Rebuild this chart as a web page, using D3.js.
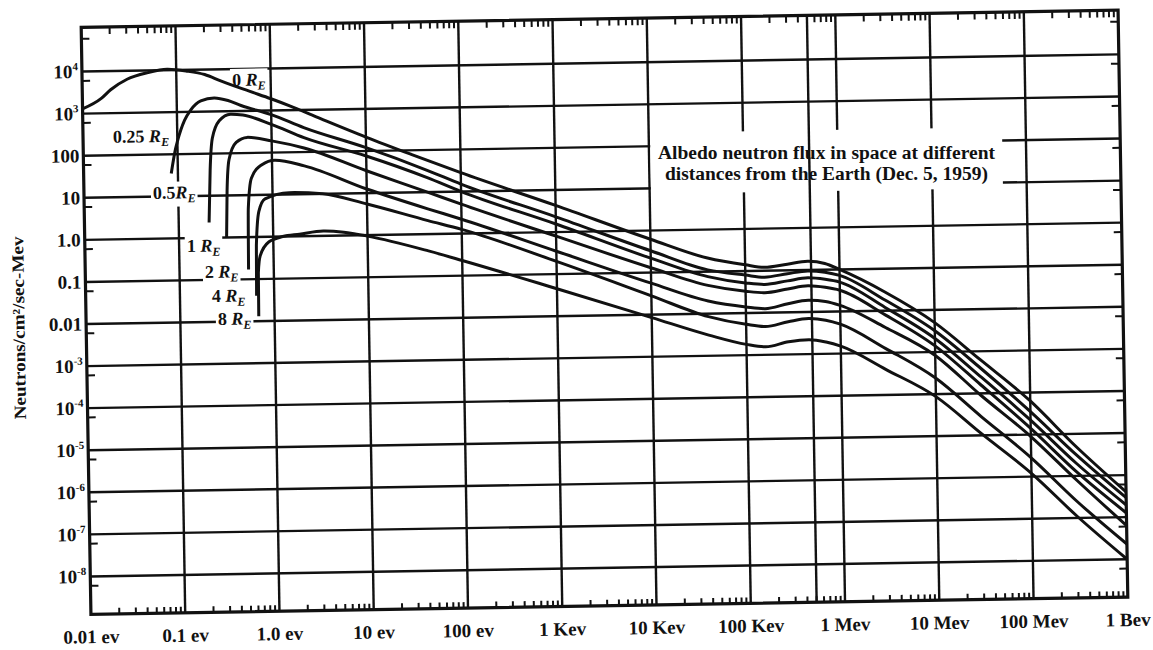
<!DOCTYPE html>
<html>
<head>
<meta charset="utf-8">
<script src="https://cdn.jsdelivr.net/npm/d3@7"></script>
<style>
  body { margin: 0; background: #fff; }
  svg { display: block; background: #fff; }
  text { font-family: "Liberation Serif", "DejaVu Serif", serif; font-weight: bold; fill: #111; white-space: pre; }
</style>
</head>
<body>
<svg id="chart" width="1153" height="650"></svg>
<script>
// x axis: energy decades in eV
const energyTicks = [1e-2, 1e-1, 1, 1e1, 1e2, 1e3, 1e4, 1e5, 1e6, 1e7, 1e8, 1e9];
const energyLabels = ["0.01 ev", "0.1 ev", "1.0 ev", "10 ev", "100 ev", "1 Kev", "10 Kev", "100 Kev", "1 Mev", "10 Mev", "100 Mev", "1 Bev"];
const extraEnergyLine = 5e5;

// y axis: flux decades
const fluxTicks = [1e4, 1e3, 100, 10, 1, 0.1, 0.01, 1e-3, 1e-4, 1e-5, 1e-6, 1e-7, 1e-8];
const fluxLabels = [["10", "4"], ["10", "3"], ["100"], ["10"], ["1.0"], ["0.1"], ["0.01"],
  ["10", "-3"], ["10", "-4"], ["10", "-5"], ["10", "-6"], ["10", "-7"], ["10", "-8"]];

// distance from the Earth, in Earth radii
const distances = ["0", "0.25", "0.5", "1", "2", "4", "8"];
const distanceGap = [" ", " ", "", " ", " ", " ", " "];

// [energy (eV), neutrons/cm2/sec-Mev]
const flux0 = [[0.01, 1300], [0.016, 2300], [0.02, 3600], [0.03, 6300], [0.05, 8900], [0.08, 10500],
  [0.13, 9300], [0.2, 7600], [0.3, 5200], [0.6, 2900], [1, 1900], [1.6, 1250], [3, 680], [10, 215],
  [30, 80], [100, 28], [1e3, 4.3], [1e4, 0.62], [4e4, 0.21], [1e5, 0.14], [1.6e5, 0.12], [2.8e5, 0.14],
  [4.6e5, 0.16], [7e5, 0.14], [1e6, 0.1], [3e6, 0.028], [1e7, 5e-3], [3e7, 6.3e-4], [1e8, 6.3e-5],
  [3e8, 5e-6], [1e9, 4e-7]];
const flux025 = [[0.085, 35], [0.095, 130], [0.1, 200], [0.12, 630], [0.14, 1100], [0.18, 1800],
  [0.25, 2100], [0.35, 1800], [0.48, 1350], [1, 800], [2.2, 380], [10, 120], [44, 33], [100, 15],
  [1e3, 2.3], [1e4, 0.33], [4e4, 0.11], [1e5, 0.08], [1.6e5, 0.07], [2.8e5, 0.083], [4.6e5, 0.095],
  [7e5, 0.087], [1e6, 0.072], [3e6, 0.018], [1e7, 3.2e-3], [3e7, 4e-4], [1e8, 3.5e-5], [3e8, 3.2e-6],
  [1e9, 2.9e-7]];
const flux05 = [[0.21, 2.3], [0.22, 40], [0.235, 230], [0.28, 600], [0.37, 850], [0.5, 800], [1, 470],
  [2.2, 220], [10, 76], [44, 22], [100, 10], [1e3, 1.55], [1e4, 0.22], [4e4, 0.076], [1e5, 0.052],
  [1.6e5, 0.047], [2.8e5, 0.056], [4.6e5, 0.065], [7e5, 0.059], [1e6, 0.05], [3e6, 0.012], [1e7, 2.1e-3],
  [3e7, 2.5e-4], [1e8, 2.2e-5], [3e8, 2e-6], [1e9, 1.95e-7]];
const flux1 = [[0.32, 1.0], [0.33, 13], [0.35, 70], [0.42, 180], [0.55, 235], [1, 190], [2.2, 125],
  [10, 34], [44, 10], [100, 5], [1e3, 0.8], [1e4, 0.13], [4e4, 0.047], [1e5, 0.033], [1.6e5, 0.03],
  [2.8e5, 0.036], [4.6e5, 0.042], [7e5, 0.038], [1e6, 0.032], [3e6, 8e-3], [1e7, 1.4e-3], [3e7, 1.6e-4],
  [1e8, 1.4e-5], [3e8, 1.26e-6], [1e9, 1.26e-7]];
const flux2 = [[0.54, 0.17], [0.55, 4.8], [0.6, 25], [0.78, 52], [1.07, 66], [2.2, 47], [10, 12.5],
  [44, 4], [100, 2.2], [1e3, 0.35], [1e4, 0.056], [4e4, 0.02], [1e5, 0.014], [1.6e5, 0.0125],
  [2.8e5, 0.016], [4.6e5, 0.019], [7e5, 0.0175], [1e6, 0.014], [3e6, 4e-3], [1e7, 8.3e-4], [3e7, 9e-5],
  [1e8, 9e-6], [3e8, 8e-7], [1e9, 6.3e-8]];
const flux4 = [[0.65, 0.04], [0.66, 0.63], [0.71, 4], [0.83, 8], [1.5, 11], [3.4, 10], [10, 5.5],
  [44, 2.1], [100, 1.26], [1e3, 0.2], [1e4, 0.028], [4e4, 8.5e-3], [1e5, 5.4e-3], [1.6e5, 4.7e-3],
  [2.8e5, 6e-3], [4.6e5, 7e-3], [7e5, 6.3e-3], [1e6, 5e-3], [3e6, 1.26e-3], [1e7, 2.4e-4], [3e7, 2.8e-5],
  [1e8, 2.8e-6], [3e8, 2.5e-7], [1e9, 2.3e-8]];
const flux8 = [[0.68, 0.013], [0.685, 0.14], [0.72, 0.35], [0.9, 0.76], [1.26, 1.0], [1.9, 1.12],
  [3.4, 1.3], [5.6, 1.2], [10, 0.95], [44, 0.4], [100, 0.23], [1e3, 0.045], [1e4, 8.5e-3], [4e4, 3.1e-3],
  [1e5, 1.8e-3], [1.6e5, 1.55e-3], [2.8e5, 2e-3], [4.6e5, 2.2e-3], [7e5, 1.9e-3], [1e6, 1.5e-3],
  [3e6, 4e-4], [1e7, 8.7e-5], [3e7, 1.1e-5], [1e8, 1.2e-6], [3e8, 1.1e-7], [1e9, 1e-8]];
const series = [flux0, flux025, flux05, flux1, flux2, flux4, flux8];

const titleLines = ["Albedo neutron flux in space at different", "distances from the Earth (Dec. 5, 1959)"];
const yTitle = "Neutrons/cm\u00b2/sec-Mev";

// layout (the scan is tilted a little, so the whole sheet is rotated)
const margin = { left: 86, top: 18.75 };
const width = 1037;
const height = 587;
const tilt = -0.95;
// curve label anchors, in plot pixels
const labelPos = [[150, 61], [30, 116], [69, 172.7], [102, 226.4], [119.6, 252.6], [126.2, 276.8], [131.8, 299.9]];

const svg = d3.select("#chart");
const sheet = svg.append("g").attr("transform", `rotate(${tilt},604.5,312.25)`);
const g = sheet.append("g").attr("transform", `translate(${margin.left},${margin.top})`);

const x = d3.scaleLog().domain([1e-2, 1e9]).range([0, width]);
const y = d3.scaleLog().domain([Math.pow(10, -8.9), Math.pow(10, 5.05)]).range([height, 0]);

const ink = "#111";
const gridLayer = g.append("g");
const knockLayer = g.append("g");
const curveLayer = g.append("g");
const labelLayer = g.append("g");

// grid
gridLayer.selectAll(".hgrid").data(fluxTicks).enter().append("line")
  .attr("x1", 0).attr("x2", width)
  .attr("y1", d => y(d)).attr("y2", d => y(d))
  .attr("stroke", ink).attr("stroke-width", 2.4);
gridLayer.selectAll(".vgrid").data(energyTicks.slice(1, -1)).enter().append("line")
  .attr("x1", d => x(d)).attr("x2", d => x(d))
  .attr("y1", 0).attr("y2", height)
  .attr("stroke", ink).attr("stroke-width", 2.4);

// blank area behind the note
knockLayer.append("rect")
  .attr("x", 567).attr("y", 115).attr("width", 352).attr("height", 61)
  .attr("fill", "#fff");
knockLayer.append("line")
  .attr("x1", x(extraEnergyLine)).attr("x2", x(extraEnergyLine))
  .attr("y1", 0).attr("y2", height)
  .attr("stroke", ink).attr("stroke-width", 2.4);

// minor ticks
const minorE = [];
energyTicks.slice(0, -1).forEach(d => { for (let m = 2; m <= 9; m++) minorE.push(d * m); });
g.selectAll(".tb").data(minorE).enter().append("line")
  .attr("x1", d => x(d)).attr("x2", d => x(d))
  .attr("y1", height).attr("y2", height - 6)
  .attr("stroke", ink).attr("stroke-width", 2);
g.selectAll(".tt").data(minorE).enter().append("line")
  .attr("x1", d => x(d)).attr("x2", d => x(d))
  .attr("y1", 0).attr("y2", 7)
  .attr("stroke", ink).attr("stroke-width", 2);
const minorF = d3.range(-9, 5).map(k => 6 * Math.pow(10, k));
g.selectAll(".tl").data(minorF).enter().append("line")
  .attr("x1", 0).attr("x2", 8)
  .attr("y1", d => y(d)).attr("y2", d => y(d))
  .attr("stroke", ink).attr("stroke-width", 2);
g.selectAll(".tr").data(minorF).enter().append("line")
  .attr("x1", width).attr("x2", width - 8)
  .attr("y1", d => y(d)).attr("y2", d => y(d))
  .attr("stroke", ink).attr("stroke-width", 2);

// curves
const line = d3.line()
  .x(d => x(d[0]))
  .y(d => y(d[1]))
  .curve(d3.curveMonotoneX);
curveLayer.selectAll("path").data(series).enter().append("path")
  .attr("d", line)
  .attr("fill", "none")
  .attr("stroke", ink)
  .attr("stroke-width", 3)
  .attr("stroke-linejoin", "round");

// frame
g.append("rect")
  .attr("width", width).attr("height", height)
  .attr("fill", "none").attr("stroke", ink).attr("stroke-width", 3.2);

// curve labels, each blanking the grid behind it
distances.forEach((d, i) => {
  const t = labelLayer.append("text")
    .attr("x", labelPos[i][0]).attr("y", labelPos[i][1])
    .attr("font-size", 18);
  t.append("tspan").text(d + distanceGap[i]);
  t.append("tspan").attr("font-style", "italic").text("R");
  t.append("tspan").attr("font-style", "italic").attr("font-size", 12).attr("dy", 4).text("E");
  const b = t.node().getBBox();
  knockLayer.append("rect")
    .attr("x", b.x - 2).attr("y", b.y - 1)
    .attr("width", b.width + 4).attr("height", b.height + 2)
    .attr("fill", "#fff");
});

// y tick labels
fluxTicks.forEach((v, i) => {
  const t = g.append("text")
    .attr("x", -4).attr("y", y(v) + 6.5)
    .attr("text-anchor", "end")
    .attr("font-size", 19);
  t.append("tspan").text(fluxLabels[i][0]);
  if (fluxLabels[i][1]) {
    t.append("tspan").attr("font-size", 11).attr("dy", -8).text(fluxLabels[i][1]);
  }
});

// x tick labels
g.selectAll(".xl").data(energyTicks).enter().append("text")
  .attr("x", d => x(d)).attr("y", height + 29)
  .attr("text-anchor", "middle")
  .attr("font-size", 19)
  .text((d, i) => energyLabels[i]);

// y title
g.append("text")
  .attr("transform", "translate(-61.6,299.5) rotate(-90)")
  .attr("text-anchor", "middle")
  .attr("font-size", 17)
  .attr("textLength", 183)
  .attr("lengthAdjust", "spacingAndGlyphs")
  .text(yTitle);

// note, kept level so its two lines stay clear of each other
const note = g.append("g").attr("transform", `rotate(${-tilt},743,144)`);
note.selectAll("text").data(titleLines).enter().append("text")
  .attr("x", 743).attr("y", (d, i) => 143.8 + i * 21.6)
  .attr("text-anchor", "middle")
  .attr("font-size", 18)
  .attr("textLength", (d, i) => i === 0 ? 337 : 323)
  .attr("lengthAdjust", "spacingAndGlyphs")
  .text(d => d);
</script>
</body>
</html>
